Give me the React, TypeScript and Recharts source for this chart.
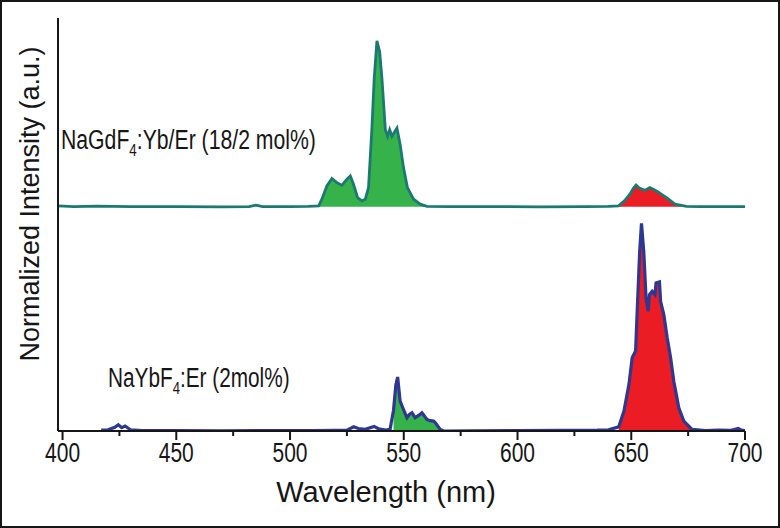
import { Area, ComposedChart, Line, XAxis, YAxis } from "recharts";

// NaGdF4:Yb/Er (18/2 mol%) — normalized to its own maximum
const TOP_NM = [
  398, 405, 415, 430, 450, 470, 482, 485, 488, 500, 508, 512.6, 514, 516.2, 518.4, 520.6,
  522.8, 525, 526.5, 527.9, 529.7, 531.6, 533.1, 534.5, 536, 537, 538.2, 539.4, 540.4,
  541.9, 542.9, 543.8, 544.8, 547, 548.4, 549.9, 551.6, 554.3, 557.2, 560.2, 570, 590,
  610, 630, 640, 644.4, 647, 649.4, 651, 652.1, 653.5, 656, 658.2, 661.1, 665.5, 669.2,
  674.3, 680, 690, 700,
];
const TOP_INT = [
  0.006, 0.002, 0.004, 0.001, 0.002, 0, 0.002, 0.01, 0.002, 0.001, 0.003, 0.006, 0.046,
  0.126, 0.17, 0.146, 0.13, 0.166, 0.186, 0.136, 0.056, 0.036, 0.046, 0.116, 0.475,
  0.774, 1.0, 0.934, 0.774, 0.465, 0.425, 0.465, 0.425, 0.475, 0.375, 0.235, 0.116,
  0.046, 0.016, 0.003, 0.001, 0.002, 0, 0.002, 0.003, 0.006, 0.036, 0.076, 0.114, 0.132,
  0.114, 0.1, 0.116, 0.096, 0.056, 0.016, 0.003, 0.001, 0.002, 0.001,
];

// NaYbF4:Er (2mol%) — normalized to its own maximum
const BOTTOM_NM = [
  417, 420, 423, 424.5, 426, 427.5, 430, 435, 450, 470, 490, 510, 520, 525, 528, 530,
  533, 537, 539, 542, 544, 545.5, 546.5, 547.3, 548.4, 550, 551.4, 552.5, 553.6, 555,
  556.5, 558, 560.2, 561.5, 563.1, 563.9, 566, 567.5, 580, 600, 620, 635, 640, 644.5,
  646.8, 649, 650.4, 651.9, 652.6, 653.7, 654.5, 655.5, 656.5, 657.4, 658, 659.2, 660.4,
  660.9, 662.4, 662.9, 664.3, 665.8, 667.3, 668.7, 670.9, 673.1, 676.7, 682.6, 688,
  694, 697, 698.5, 700,
];
const BOTTOM_INT = [
  0.004, 0.006, 0.018, 0.03, 0.016, 0.024, 0.005, 0.002, 0.002, 0.001, 0.002, 0.002,
  0.003, 0.004, 0.02, 0.012, 0.008, 0.022, 0.01, 0.004, 0.01, 0.1, 0.22, 0.26, 0.144,
  0.1, 0.064, 0.08, 0.088, 0.064, 0.075, 0.088, 0.056, 0.05, 0.048, 0.04, 0.008, 0,
  0.001, 0.002, 0.003, 0.004, 0.006, 0.02, 0.096, 0.226, 0.353, 0.385, 0.577, 0.865,
  1.0, 0.865, 0.64, 0.577, 0.657, 0.673, 0.657, 0.713, 0.718, 0.625, 0.561, 0.449,
  0.353, 0.24, 0.112, 0.048, 0.008, 0.002, 0.004, 0.003, 0.012, 0.004, 0.002,
];

// wavelength ranges shaded under each curve
const TOP_GREEN = [512.6, 560.2];
const TOP_RED = [644.4, 674.3];
const BOTTOM_GREEN = [545.5, 566];
const BOTTOM_RED = [644.5, 682.6];

const MAJOR_TICKS = [400, 450, 500, 550, 600, 650, 700];
const MINOR_TICKS = [425, 475, 525, 575, 625, 675];

const Y_MAX = 1.99;
const TOP_OFFSET = 1.08;
const TOP_SCALE = 0.8;

const inRange = (nm: number, r: number[]) => nm >= r[0] && nm <= r[1];

const allNm = Array.from(new Set([...TOP_NM, ...BOTTOM_NM])).sort((a, b) => a - b);
const rows = allNm.map((nm) => {
  const ti = TOP_NM.indexOf(nm);
  const bi = BOTTOM_NM.indexOf(nm);
  const top = ti >= 0 ? TOP_OFFSET + TOP_SCALE * TOP_INT[ti] : null;
  const bottom = bi >= 0 ? BOTTOM_INT[bi] : null;
  return {
    nm,
    top,
    bottom,
    topGreen: top !== null && inRange(nm, TOP_GREEN) ? top : null,
    topRed: top !== null && inRange(nm, TOP_RED) ? top : null,
    bottomGreen: bottom !== null && inRange(nm, BOTTOM_GREEN) ? bottom : null,
    bottomRed: bottom !== null && inRange(nm, BOTTOM_RED) ? bottom : null,
  };
});

const INK = "#161616";
const TEAL = "#1a7a72";
const NAVY = "#2e3792";
const GREEN = "#35b34a";
const RED = "#ec1c24";
const sans = "'Liberation Sans', Arial, sans-serif";

function WavelengthTick(props: any) {
  const { x, y, payload } = props;
  const major = payload.value % 50 === 0;
  return (
    <g>
      <line x1={x} x2={x} y1={y} y2={y + (major ? 9 : 5)} stroke={INK} strokeWidth={2} />
      {major && (
        <text
          x={x}
          y={y + 31}
          textAnchor="middle"
          fontSize={28}
          fontFamily={sans}
          textLength={35}
          lengthAdjust="spacingAndGlyphs"
          fill={INK}
        >
          {payload.value}
        </text>
      )}
    </g>
  );
}

// chemical formula label, squeezed horizontally like the condensed face of the original
function Formula({ x, y, sx, head, rest }: { x: number; y: number; sx: number; head: string; rest: string }) {
  return (
    <g transform={`translate(${x} ${y}) scale(${sx} 1)`}>
      <text x={0} y={0} fontSize={27} fontFamily={sans} fill={INK}>
        {head}
        <tspan dy={7} fontSize={17}>4</tspan>
        <tspan dy={-7}>{rest}</tspan>
      </text>
    </g>
  );
}

export default function App() {
  return (
    <div style={{ position: "fixed", left: 0, top: 0, width: 780, height: 528, background: "#fff" }}>
      <ComposedChart width={780} height={528} data={rows} margin={{ top: 18, right: 35, bottom: 0, left: 0 }}>
        <XAxis
          dataKey="nm"
          type="number"
          domain={[398, 700]}
          allowDataOverflow
          ticks={[...MAJOR_TICKS, ...MINOR_TICKS].sort((a, b) => a - b)}
          interval={0}
          tick={<WavelengthTick />}
          tickLine={false}
          tickSize={0}
          tickMargin={0}
          height={97}
          axisLine={{ stroke: INK, strokeWidth: 2 }}
        />
        <XAxis
          xAxisId="top"
          orientation="top"
          dataKey="nm"
          type="number"
          domain={[398, 700]}
          height={0}
          tick={false}
          tickLine={false}
          axisLine={{ stroke: INK, strokeWidth: 2 }}
        />
        <YAxis
          type="number"
          domain={[0, Y_MAX]}
          allowDataOverflow
          width={58}
          tick={false}
          tickLine={false}
          axisLine={{ stroke: INK, strokeWidth: 2 }}
        />
        <YAxis
          yAxisId="right"
          orientation="right"
          type="number"
          domain={[0, Y_MAX]}
          width={0}
          tick={false}
          tickLine={false}
          axisLine={{ stroke: INK, strokeWidth: 2 }}
        />
        <Area dataKey="topGreen" type="linear" baseValue={TOP_OFFSET} fill={GREEN} fillOpacity={1} stroke="none" connectNulls isAnimationActive={false} />
        <Area dataKey="topRed" type="linear" baseValue={TOP_OFFSET} fill={RED} fillOpacity={1} stroke="none" connectNulls isAnimationActive={false} />
        <Area dataKey="bottomGreen" type="linear" baseValue={0} fill={GREEN} fillOpacity={1} stroke="none" connectNulls isAnimationActive={false} />
        <Area dataKey="bottomRed" type="linear" baseValue={0} fill={RED} fillOpacity={1} stroke="none" connectNulls isAnimationActive={false} />
        <Line dataKey="top" type="linear" stroke={TEAL} strokeWidth={2.8} dot={false} connectNulls isAnimationActive={false} />
        <Line dataKey="bottom" type="linear" stroke={NAVY} strokeWidth={3.2} dot={false} connectNulls isAnimationActive={false} />
      </ComposedChart>
      <svg width={780} height={528} style={{ position: "absolute", left: 0, top: 0, pointerEvents: "none" }}>
        <text x={30} y={204} transform="rotate(-90 30 204)" textAnchor="middle" dominantBaseline="central" fontSize={27} fontFamily={sans} fill={INK}>
          Normalized Intensity (a.u.)
        </text>
        <text x={386} y={502} textAnchor="middle" fontSize={29} fontFamily={sans} fill={INK}>
          Wavelength (nm)
        </text>
        <Formula x={61} y={149} sx={0.786} head="NaGdF" rest=":Yb/Er (18/2 mol%)" />
        <Formula x={108} y={387} sx={0.77} head="NaYbF" rest=":Er (2mol%)" />
        <rect x={1} y={1} width={778} height={526} fill="none" stroke={INK} strokeWidth={2} />
      </svg>
    </div>
  );
}
